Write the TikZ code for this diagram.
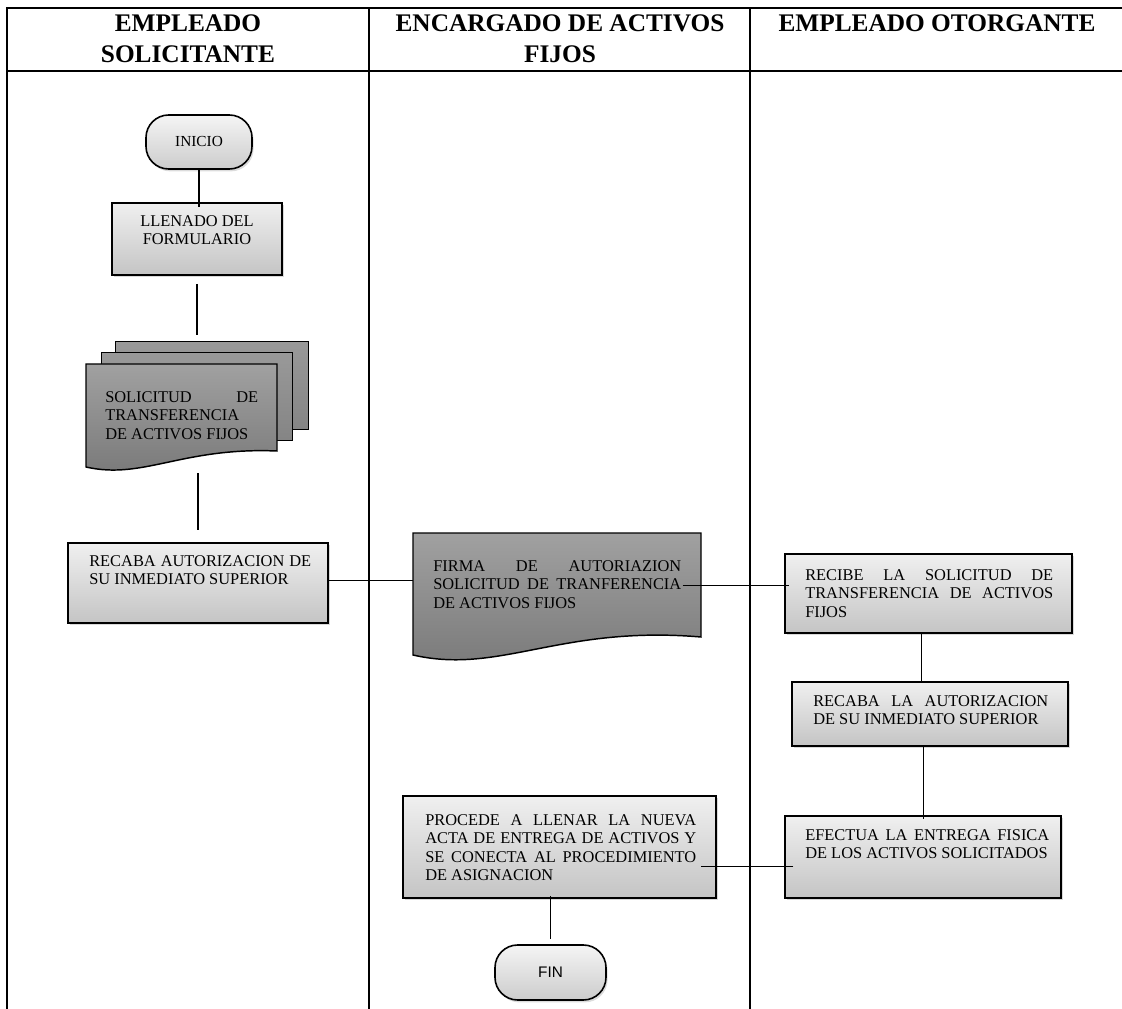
\documentclass[tikz,border=0pt]{standalone}
\usepackage{fontspec}
\setmainfont{Liberation Serif}
\newfontfamily\finfont{Liberation Sans}
\usetikzlibrary{fit,shadows,calc}

\definecolor{boxtop}{gray}{0.94}
\definecolor{boxbot}{gray}{0.77}
\definecolor{termtop}{gray}{0.96}
\definecolor{termbot}{gray}{0.80}
\definecolor{doctop}{gray}{0.63}
\definecolor{docbot}{gray}{0.47}
\definecolor{sheettop}{gray}{0.60}
\definecolor{sheetbot}{gray}{0.52}

\tikzset{
  lane/.style={line width=1.5pt, line cap=rect},
  head/.style={font=\bfseries\fontsize{19}{23.5}\selectfont, align=center, anchor=north},
  procbox/.style={draw, line width=1.3pt, inner sep=0pt,
    top color=boxtop, bottom color=boxbot,
    drop shadow={shadow xshift=1.2pt, shadow yshift=-1.8pt, opacity=0.3}},
  termbox/.style={draw, line width=1.2pt, inner sep=0pt, rounded corners=17pt,
    top color=termtop, bottom color=termbot,
    drop shadow={shadow xshift=1.2pt, shadow yshift=-1.8pt, opacity=0.28}},
  docfill/.style={draw, line width=1.1pt, top color=doctop, bottom color=docbot},
  docsheet/.style={draw, line width=1.1pt, top color=sheettop, bottom color=sheetbot},
  boxtext/.style={anchor=north west, inner sep=0pt, align=justify,
    font=\fontsize{12.3}{13.9}\selectfont},
  link/.style={line width=0.8pt}
}

\begin{document}
\hyphenpenalty=10000
\exhyphenpenalty=10000
\begin{tikzpicture}[x=0.75pt, y=-0.75pt]
  \useasboundingbox (0,0) rectangle (1122,1009);

  % swimlane grid
  \draw[lane] (7,8) -- (1122,8);
  \draw[lane] (7,71) -- (1122,71);
  \draw[lane] (7,8) -- (7,1009);
  \draw[lane] (369,8) -- (369,1009);
  \draw[lane] (750,8) -- (750,1009);

  % lane titles
  \node[head] (h1) at (188,10) {EMPLEADO\\SOLICITANTE};
  \node[head] (h2) at (560,10) {ENCARGADO DE ACTIVOS\\FIJOS};
  \node[head] (h3) at (937,10) {EMPLEADO OTORGANTE};

  % start terminal
  \node[termbox, fit={(146,115) (252,169)}] (inicio) {};
  \node[font=\fontsize{11.5}{13}\selectfont] (inicioT) at (inicio.center) {INICIO};

  % form filling
  \node[procbox, fit={(112,203) (282,275)}] (llenado) {};
  \node[align=center, inner sep=0pt, font=\fontsize{12.3}{13.9}\selectfont, anchor=north]
    (llenadoT) at (197,215) {LLENADO DEL\\FORMULARIO};

  % stacked documents
  \node[inner sep=0pt, fit={(116,342) (308,429)}] (sheetA) {};
  \node[inner sep=0pt, fit={(102,353) (292,440)}] (sheetB) {};
  \node[inner sep=0pt, fit={(86,364) (277,467)}] (solicitud) {};
  \path[docsheet] (sheetA.north west) rectangle (sheetA.south east);
  \path[docsheet] (sheetB.north west) rectangle (sheetB.south east);
  \path[docfill] (86,364) -- (277,364) -- (277,451)
     .. controls (182,447) and (143,480) .. (86,467) -- cycle;
  \node[boxtext, text width=153*0.75pt] (solicitudT) at (105,391)
    {SOLICITUD DE\linebreak TRANSFERENCIA\\DE ACTIVOS FIJOS};

  % authorisation request
  \node[procbox, fit={(68,543) (328,623)}] (recaba1) {};
  \node[boxtext, text width=222*0.75pt] (recaba1T) at (89,555)
    {RECABA AUTORIZACION DE\linebreak SU INMEDIATO SUPERIOR};

  % signed document
  \node[inner sep=0pt, fit={(413,533) (701,655)}] (firma) {};
  \path[docfill] (413,533) -- (701,533) -- (701,637)
     .. controls (560,625) and (500,675) .. (413,655) -- cycle;
  \node[boxtext, text width=248*0.75pt] (firmaT) at (433,560)
    {FIRMA DE AUTORIAZION\linebreak SOLICITUD DE TRANFERENCIA\linebreak DE ACTIVOS FIJOS};

  % receives the request
  \node[procbox, fit={(785,554) (1072,633)}] (recibe) {};
  \node[boxtext, text width=248*0.75pt] (recibeT) at (805,569)
    {RECIBE LA SOLICITUD DE\linebreak TRANSFERENCIA DE ACTIVOS\linebreak FIJOS};

  % authorisation of the granting side
  \node[procbox, fit={(792,682) (1068,746)}] (recaba2) {};
  \node[boxtext, text width=235*0.75pt] (recaba2T) at (813,695)
    {RECABA LA AUTORIZACION\linebreak DE SU INMEDIATO SUPERIOR};

  % physical delivery
  \node[procbox, fit={(785,816) (1061,898)}] (efectua) {};
  \node[boxtext, text width=244*0.75pt] (efectuaT) at (805,829)
    {EFECTUA LA ENTREGA FISICA\linebreak DE LOS ACTIVOS SOLICITADOS};

  % new delivery record
  \node[procbox, fit={(403,796) (716,898)}] (procede) {};
  \node[boxtext, text width=271*0.75pt] (procedeT) at (425,814)
    {PROCEDE A LLENAR LA NUEVA\linebreak ACTA DE ENTREGA DE ACTIVOS Y\linebreak SE CONECTA AL PROCEDIMIENTO\linebreak DE ASIGNACION};

  % end terminal
  \node[termbox, fit={(495,945) (606,1000)}] (fin) {};
  \node[font=\finfont\fontsize{11.5}{13}\selectfont] (finT) at (fin.center) {FIN};

  % connectors
  \draw[link] (inicio.south) -- ([yshift=-4pt]inicio.south |- llenado.north);
  \draw[link, shorten <=6pt, shorten >=5pt] (llenado.south) -- (llenado.south |- sheetA.north);
  \draw[link, shorten <=4.5pt, shorten >=9pt] (recaba1.north |- solicitud.south) -- (recaba1.north);
  \draw[link] ([yshift=2pt]recaba1.east) -- ([yshift=2pt]recaba1.east -| firma.west);
  \draw[link] ([yshift=6pt,xshift=-14pt]recibe.west -| firma.east) -- ([yshift=6pt,xshift=4pt]recibe.west);
  \draw[link] ([xshift=-5pt]recibe.south) -- ([xshift=-5pt]recibe.south |- recaba2.north);
  \draw[link] ([xshift=-5pt]recaba2.south) -- ([xshift=-5pt,yshift=-3pt]recaba2.south |- efectua.north);
  \draw[link] ([xshift=7pt,yshift=-7pt]efectua.west) -- ([xshift=-12pt,yshift=-7pt]efectua.west -| procede.east);
  \draw[link] ([yshift=2pt]fin.north |- procede.south) -- ([yshift=4pt]fin.north);
\end{tikzpicture}
\end{document}
